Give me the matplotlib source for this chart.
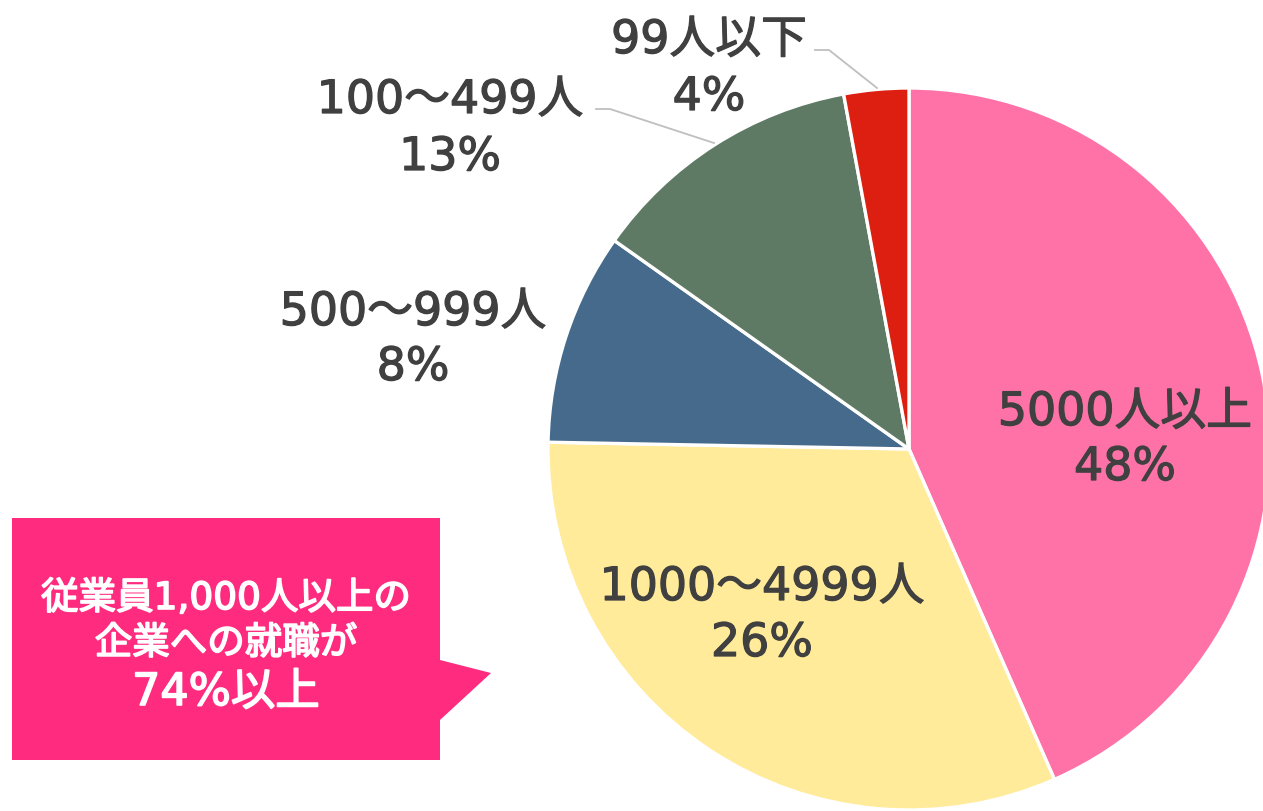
import matplotlib
matplotlib.use("Agg")
import matplotlib.pyplot as plt
import matplotlib.patheffects as pe
from matplotlib.patches import Polygon

plt.rcParams['font.family'] = ['DejaVu Sans', 'Noto Sans CJK JP']

# ---- data ----
categories = ["5000人以上", "1000～4999人", "500～999人", "100～499人", "99人以下"]
values = [43.4, 31.9, 9.5, 12.3, 2.9]          # slice sizes as drawn
pct_labels = ["48%", "26%", "8%", "13%", "4%"]  # printed labels
colors = ["#FF72A7", "#FFEB99", "#466A8C", "#5E7A64", "#DC1F10"]
callout_lines = ["従業員1,000人以上の", "企業への就職が", "74%以上"]

W, H = 1263, 811
fig = plt.figure(figsize=(W / 100, H / 100), dpi=100)
ax = fig.add_axes([0, 0, 1, 1])

def Y(y):  # pixel (top-down) to data
    return H - y

cx, cy, r = 909, 449, 361
ax.pie(values, colors=colors, startangle=90, counterclock=False,
       center=(cx, Y(cy)), radius=r, frame=True,
       wedgeprops=dict(edgecolor='white', linewidth=2.4))
ax.set_xlim(0, W)
ax.set_ylim(0, H)
ax.set_aspect('equal')
ax.axis('off')

txt_color = "#404040"
fs = 33
thick = [pe.withStroke(linewidth=0.9, foreground=txt_color)]
# label positions (center x, baseline y of line 1, baseline y of line 2)
label_pos = [(1125, 425, 480), (762, 600, 656), (413, 325, 380),
             (450, 113, 170), (709, 53, 110)]
for cat, pct, (lx, b1, b2) in zip(categories, pct_labels, label_pos):
    ax.text(lx, Y(b1), cat, ha='center', va='baseline', fontsize=fs,
            color=txt_color, path_effects=thick)
    ax.text(lx, Y(b2), pct, ha='center', va='baseline', fontsize=fs,
            color=txt_color, path_effects=thick)

# leader lines
lc = "#BFBFBF"
ax.plot([815, 829, 877], [Y(50), Y(50), Y(88)], color=lc, lw=1.3)
ax.plot([596, 610, 714], [Y(109), Y(109), Y(143)], color=lc, lw=1.3)

# callout box
pts = [(12, 518), (440, 518), (440, 660), (491, 673), (440, 720), (440, 760), (12, 760)]
ax.add_patch(Polygon([(x, Y(y)) for x, y in pts], closed=True,
                     facecolor="#FF2B7E", edgecolor='none'))
wthick = [pe.withStroke(linewidth=1.2, foreground='white')]
ax.text(226, Y(609), callout_lines[0], ha='center', va='baseline', fontsize=27,
        color='white', path_effects=wthick)
ax.text(226, Y(654), callout_lines[1], ha='center', va='baseline', fontsize=27,
        color='white', path_effects=wthick)
ax.text(226, Y(705), callout_lines[2], ha='center', va='baseline', fontsize=32,
        color='white', path_effects=wthick)

fig.savefig("out.png", dpi=100)
